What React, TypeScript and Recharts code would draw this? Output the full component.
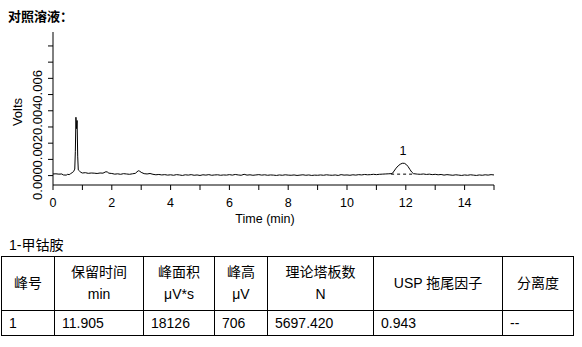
import React from "react";
import {
  Line,
  LineChart,
  ReferenceDot,
  XAxis,
  YAxis,
} from "recharts";

// retention time (min) and detector signal (V)
const timeMin = [
  0, 0.1, 0.2, 0.3, 0.35, 0.45, 0.5, 0.55, 0.6, 0.65, 0.7, 0.74, 0.76, 0.78, 0.8, 0.82, 0.84, 0.86, 0.9, 0.95,
  1.0, 1.1, 1.2, 1.3, 1.4, 1.5, 1.6, 1.7, 1.8, 1.85, 1.9, 2.0, 2.1, 2.2, 2.3, 2.4, 2.5, 2.6, 2.7, 2.8,
  2.9, 2.95, 3.0, 3.1, 3.2, 3.3, 3.4, 3.5, 3.6, 3.7, 3.8, 3.9, 4.0, 4.1, 4.2, 4.3, 4.4, 4.5, 4.6, 4.7,
  4.8, 4.9, 5.0, 5.1, 5.2, 5.3, 5.4, 5.5, 5.6, 5.7, 5.8, 5.9, 6.0, 6.1, 6.2, 6.3, 6.4, 6.5, 6.6, 6.7,
  6.8, 6.9, 7.0, 7.1, 7.2, 7.3, 7.4, 7.5, 7.6, 7.7, 7.8, 7.9, 8.0, 8.1, 8.2, 8.3, 8.4, 8.5, 8.6, 8.7,
  8.8, 8.9, 9.0, 9.1, 9.2, 9.3, 9.4, 9.5, 9.6, 9.7, 9.8, 9.9, 10.0, 10.1, 10.2, 10.3, 10.4, 10.5, 10.6, 10.7,
  10.8, 10.9, 11.0, 11.1, 11.2, 11.3, 11.4, 11.5, 11.55, 11.6, 11.67, 11.74, 11.81, 11.88, 11.95, 12.02, 12.08, 12.14, 12.2, 12.26,
  12.35, 12.4, 12.5, 12.6, 12.7, 12.8, 12.9, 13.0, 13.1, 13.2, 13.3, 13.4, 13.5, 13.6, 13.7, 13.8, 13.9, 14.0, 14.1, 14.2,
  14.3, 14.4, 14.5, 14.6, 14.7, 14.8, 14.9, 15.0,
];

const signalV = [
  0.0001, 0.00011, 0.00009, 0.0001, 0.00004, 0.00003, 0.00008, 0.00006, 0.00012, 0.00018, 0.00025, 0.0004, 0.0015, 0.0036, 0.0029, 0.0034, 0.0012, 0.00035, 0.00028, 0.0002,
  0.00016, 0.00018, 0.00014, 0.00016, 0.00015, 0.00013, 0.00016, 0.00015, 0.00024, 0.00022, 0.00015, 0.00013, 0.00009, 0.00011, 0.00008, 0.00012, 0.0001, 0.00008, 0.00011, 0.00014,
  0.0003, 0.00027, 0.0002, 0.00012, 0.0001, 0.00013, 0.00008, 0.00005, 0.00007, 0.00004, 0.00006, 0.00003, 0.00005, 0.00002, 0.00006, 0.00004, 0.00001, 0.00005, 0.00003, 0.00006,
  0.00002, 0.00004, 0.00001, 0.00005, 0.00003, 0.00006, 0.00002, 0.00004, 0.00005, 0.00002, 0.00004, 0.00003, 0.00006, 0.00003, 0.00007, 0.00004, 0.00002, 0.00008, 0.00003, 0.00005,
  0.00002, 0.00004, 0.00006, 0.00003, 0.00005, 0.00002, 0.00004, 0.00003, 0.00001, 0.00004, 0.00002, 0.00005, 0.00003, 0.00002, 0.00004, 0.00001, 0.00003, 0.00005, 0.00002, 0.00004,
  0.00001, 0.00003, 0.00002, 0.00004, 0.00002, 0.00005, 0.00003, 0.00002, 0.00004, 0.00001, 0.00006, 0.00003, 0.00004, 0.00002, 0.00005, 0.00003, 0.00006, 0.00004, 0.00007, 0.00005,
  0.00006, 0.00008, 0.00006, 0.00008, 0.00009, 0.0001, 0.00011, 0.00012, 0.00015, 0.00028, 0.00046, 0.0006, 0.0007, 0.00076, 0.00076, 0.00068, 0.00055, 0.00038, 0.00022, 0.00012,
  0.0001, 0.00009, 0.00008, 0.0001, 0.00007, 0.00009, 0.00006, 0.00008, 0.00005, 0.00007, 0.00003, 0.00006, 0.00004, 0.00002, 0.00005, 0.00003, 0.00001, 0.00004, 0.00002, 0.00005,
  0.00003, 0.00001, 0.00004, 0.00002, 0.00005, 0.00003, 0.00006, 0.00004,
];

// integration baseline drawn under peak 1
const baselineTime = [11.5, 12.26];
const baselineV = [0.00009, 0.00009];

const peakNames = ["1"];
const peakTimes = [11.905];
const peakHeights = [0.00076];

const xTicks = [0, 1, 2, 3, 4, 5, 6, 7, 8, 9, 10, 11, 12, 13, 14, 15];
const yTicks = [0, 0.001, 0.002, 0.003, 0.004, 0.005, 0.006, 0.007, 0.008];
const yTickLabels = ["0.000", "0.002", "0.004", "0.006"];

const tableHeader = [
  ["峰号"],
  ["保留时间", "min"],
  ["峰面积", "μV*s"],
  ["峰高", "μV"],
  ["理论塔板数", "N"],
  ["USP 拖尾因子"],
  ["分离度"],
];
const tableRow = ["1", "11.905", "18126", "706", "5697.420", "0.943", "--"];
const colWidths = [53, 89, 71, 53, 106, 129, 71];

const FONT = '"Liberation Sans", Arial, "Noto Sans CJK SC", sans-serif';

const signalData = timeMin.map((t, i) => ({ t, v: signalV[i] }));
const baselineData = baselineTime.map((t, i) => ({ t, v: baselineV[i] }));

function VoltTick(props: any) {
  const { x, y, payload } = props;
  const label = payload.value.toFixed(3);
  if (!yTickLabels.includes(label)) return null;
  const cy = y + 8;
  return (
    <text
      x={x}
      y={cy}
      transform={`rotate(-90, ${x}, ${cy})`}
      textAnchor="middle"
      fontSize={13}
      fontFamily={FONT}
      fill="#000"
    >
      {label}
    </text>
  );
}

export default function App() {
  return (
    <div
      style={{
        position: "absolute",
        left: 0,
        top: 0,
        width: 582,
        height: 347,
        background: "#fff",
        fontFamily: FONT,
        color: "#000",
      }}
    >
      <div
        style={{
          position: "absolute",
          left: 8,
          top: 6,
          fontSize: 13,
          fontWeight: "bold",
        }}
      >
        对照溶液：
      </div>

      <LineChart
        width={582}
        height={230}
        margin={{ top: 32, right: 88, bottom: 0, left: 0 }}
        style={{ position: "absolute", left: 0, top: 0 }}
      >
        <XAxis
          dataKey="t"
          type="number"
          domain={[0, 15]}
          ticks={xTicks}
          interval={0}
          height={45}
          tickSize={5}
          tickMargin={8}
          stroke="#000"
          tick={{ fill: "#000", fontSize: 12.5, fontFamily: FONT }}
          tickFormatter={(v) => (v % 2 === 0 ? String(v) : "")}
          label={{
            content: () => (
              <text x={265} y={223} textAnchor="middle" fontSize={12.5} fontFamily={FONT} fill="#000">
                Time (min)
              </text>
            ),
          }}
          allowDataOverflow
        />
        <YAxis
          type="number"
          domain={[-0.00058, 0.00886]}
          ticks={yTicks}
          interval={0}
          width={53}
          tickSize={5}
          tickMargin={6}
          stroke="#000"
          tick={<VoltTick />}
          allowDataOverflow
          label={{
            content: () => (
              <text
                x={21.5}
                y={112}
                transform="rotate(-90, 21.5, 112)"
                textAnchor="middle"
                fontSize={13}
                fontFamily={FONT}
                fill="#000"
              >
                Volts
              </text>
            ),
          }}
        />
        <Line
          data={signalData}
          dataKey="v"
          type="linear"
          stroke="#000"
          strokeWidth={1}
          dot={false}
          activeDot={false}
          isAnimationActive={false}
        />
        <Line
          data={baselineData}
          dataKey="v"
          type="linear"
          stroke="#000"
          strokeWidth={1}
          strokeDasharray="3 3"
          dot={false}
          activeDot={false}
          isAnimationActive={false}
        />
        {peakNames.map((name, i) => (
          <ReferenceDot
            key={name}
            x={peakTimes[i]}
            y={peakHeights[i]}
            r={0}
            fill="none"
            stroke="none"
            label={{
              value: name,
              position: "top",
              offset: 8,
              fontSize: 12.5,
              fontFamily: FONT,
              fill: "#000",
            }}
          />
        ))}
      </LineChart>

      <div style={{ position: "absolute", left: 9, top: 234, fontSize: 14 }}>1-甲钴胺</div>

      <table
        style={{
          position: "absolute",
          left: 1,
          top: 256,
          borderCollapse: "collapse",
          tableLayout: "fixed",
          width: 573,
          fontSize: 14,
          fontFamily: FONT,
        }}
      >
        <colgroup>
          {colWidths.map((w, i) => (
            <col key={i} style={{ width: w }} />
          ))}
        </colgroup>
        <tbody>
          <tr style={{ height: 54 }}>
            {tableHeader.map((lines, i) => (
              <td
                key={i}
                style={{
                  border: "1px solid #000",
                  textAlign: "center",
                  verticalAlign: "middle",
                  lineHeight: "21.5px",
                  padding: 0,
                }}
              >
                {lines.map((l, j) => (
                  <div key={j}>{l}</div>
                ))}
              </td>
            ))}
          </tr>
          <tr style={{ height: 25 }}>
            {tableRow.map((c, i) => (
              <td
                key={i}
                style={{
                  border: "1px solid #000",
                  textAlign: "left",
                  paddingLeft: 7,
                  paddingTop: 0,
                  paddingBottom: 0,
                }}
              >
                {c}
              </td>
            ))}
          </tr>
        </tbody>
      </table>
    </div>
  );
}
